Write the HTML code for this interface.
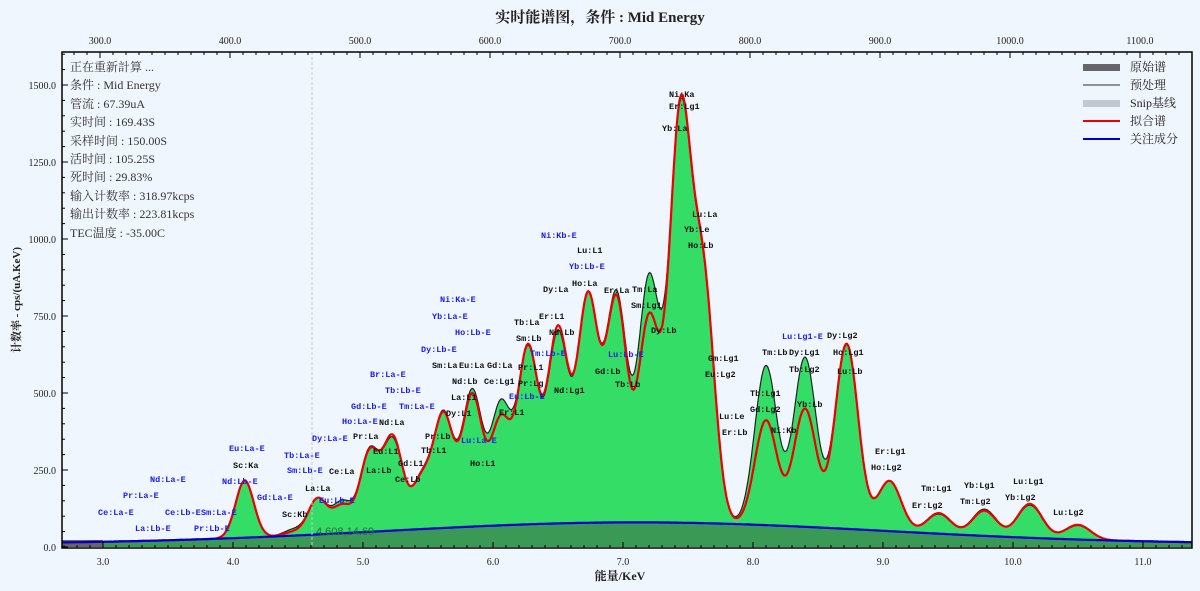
<!DOCTYPE html>
<html><head><meta charset="utf-8">
<style>
html,body{margin:0;padding:0;background:#f0f6fd;}
svg{display:block;}
.t{font-family:"Liberation Serif","Noto Serif CJK SC","Noto Sans CJK SC",serif;}
.m{font-family:"Liberation Mono",monospace;font-size:8.5px;font-weight:bold;}
</style></head>
<body>
<svg id="s" width="1200" height="591" xmlns="http://www.w3.org/2000/svg">
<rect width="1200" height="591" fill="#f0f6fd"/>
<text x="600" y="22" text-anchor="middle" class="t" font-size="15" font-weight="bold" fill="#222">实时能谱图，条件 : Mid Energy</text>
<g id="plot"></g>
<line x1="312" y1="52" x2="312" y2="548" stroke="#c8ccd4" stroke-dasharray="3,2"/>
<text x="316" y="535" font-family="Liberation Sans,sans-serif" font-size="11" fill="#2c6b3a">4.608,14.69</text>
<g id="ticks" stroke="#000"></g>
<rect x="62" y="52" width="1130" height="496" fill="none" stroke="#000" stroke-width="1.5"/>
<g class="t" font-size="12" fill="#333">
<text x="70" y="71">正在重新計算 ...</text>
<text x="70" y="89">条件 : Mid Energy</text>
<text x="70" y="108">管流 : 67.39uA</text>
<text x="70" y="126">实时间 : 169.43S</text>
<text x="70" y="145">采样时间 : 150.00S</text>
<text x="70" y="163">活时间 : 105.25S</text>
<text x="70" y="181">死时间 : 29.83%</text>
<text x="70" y="200">输入计数率 : 318.97kcps</text>
<text x="70" y="218">输出计数率 : 223.81kcps</text>
<text x="70" y="237">TEC温度 : -35.00C</text>
</g>
<g class="t" font-size="12" fill="#222">
<rect x="1083" y="64" width="37" height="7" fill="#666"/>
<text x="1130" y="71">原始谱</text>
<line x1="1083" y1="85" x2="1120" y2="85" stroke="#555" stroke-width="1.2"/>
<text x="1130" y="89">预处理</text>
<rect x="1083" y="100" width="37" height="7" fill="#c4c8d0"/>
<text x="1130" y="107">Snip基线</text>
<line x1="1083" y1="121" x2="1120" y2="121" stroke="#e00" stroke-width="2"/>
<text x="1130" y="125">拟合谱</text>
<line x1="1083" y1="139" x2="1120" y2="139" stroke="#00c" stroke-width="2"/>
<text x="1130" y="143">关注成分</text>
</g>
<text transform="translate(20,300) rotate(-90)" text-anchor="middle" class="t" font-size="11" font-weight="bold" fill="#222">计数率 - cps/(uA.KeV)</text>
<text x="620" y="580" text-anchor="middle" class="t" font-size="12" font-weight="bold" fill="#222">能量/KeV</text>
<g id="labels" class="m"></g>
</svg>
<script>
var NS="http://www.w3.org/2000/svg";
function X(e){return 103+(e-3)*130;}
function Y(c){return 547-c*0.308;}
var T0=[[4.09,218,215],[4.46,60,52],[4.65,160,160],[4.84,153,140],[5.05,325,320],[5.23,357,365],[5.45,250,245],[5.62,445,440],[5.84,515,500],[6.06,480,430],[6.27,655,660],[6.5,705,720],[6.73,830,830],[6.95,835,820],[7.2,890,760],[7.44,1450,1460],[7.62,950,960],[8.1,590,412],[8.4,617,450],[8.72,662,660],[9.05,215,215],[9.43,107,110],[9.78,123,118],[10.13,136,140],[10.5,70,72],[10.95,12,12]];
function sig(e){return 0.07+0.004*(e-4);}
function base(e){return 10+70*Math.exp(-Math.pow((e-7.1)/2.7,2));}
var H=[[],[],[]];
function spec(e,k){var s=base(e);for(var i=0;i<T0.length;i++){var d=(e-T0[i][0])/sig(T0[i][0]);s+=H[k][i]*Math.exp(-0.5*d*d);}return s;}
for(var k=1;k<=2;k++){for(var i=0;i<T0.length;i++)H[k][i]=Math.max(0,T0[i][k]-base(T0[i][0]));
 for(var it=0;it<300;it++){for(var i=0;i<T0.length;i++){var d=T0[i][k]-spec(T0[i][0],k);H[k][i]=Math.max(0,H[k][i]+0.5*d);}}}
var e0=2.685,e1=11.38,n=900,g="",r="",b="";
for(var i=0;i<=n;i++){var e=e0+(e1-e0)*i/n,x=X(e).toFixed(1);
g+=(i?"L":"M")+x+","+Y(spec(e,1)).toFixed(1);
r+=(i?"L":"M")+x+","+Y(spec(e,2)).toFixed(1);
b+=(i?"L":"M")+x+","+Y(base(e)).toFixed(1);}
var P=document.getElementById("plot");
function add(par,tag,at){var el=document.createElementNS(NS,tag);for(var k in at)el.setAttribute(k,at[k]);par.appendChild(el);return el;}
add(P,"path",{d:g+"L1192,547L62,547Z",fill:"#33dd66"});
add(P,"path",{d:b+"L1192,547L62,547Z",fill:"#3a9a55"});
add(P,"rect",{x:62,y:540,width:41,height:7,fill:"#666"});
add(P,"path",{d:g,fill:"none",stroke:"#222","stroke-width":1.2});
add(P,"path",{d:r,fill:"none",stroke:"#e00","stroke-width":2.2});
add(P,"path",{d:b,fill:"none",stroke:"#0000cc","stroke-width":2.2});
var T=document.getElementById("ticks"),S=document.getElementById("s");
function txt(x,y,s,anc){var t=add(S,"text",{x:x,y:y,"text-anchor":anc,"font-family":"Liberation Serif,serif","font-size":"10","fill":"#222"});t.textContent=s;}
for(var v=0;v<=1600;v+=50){var y=Y(v);if(y<52)break;var maj=v%250==0;add(T,"line",{x1:62,y1:y,x2:62+(maj?6:3),y2:y});if(maj)txt(56,y+4,v.toFixed(1),"end");}
for(var k=27;k<=113;k++){var e=k/10,x=X(e);if(x<62||x>1192)continue;var maj=k%10==0;add(T,"line",{x1:x,y1:548,x2:x,y2:548-(maj?6:3)});if(maj)txt(x,565,e.toFixed(1),"middle");}
for(var c=270;c<=1140;c+=10){var x=100+(c-300)*1.3;if(x<62||x>1192)continue;var maj=c%100==0;add(T,"line",{x1:x,y1:52,x2:x,y2:52+(maj?6:3)});if(maj)txt(x,44,c.toFixed(1),"middle");}
var L=[["Ce:La-E",98,512,1],["Pr:La-E",123,495,1],["Nd:La-E",150,479,1],["La:Lb-E",135,528,1],["Ce:Lb-E",165,512,1],["Sm:La-E",201,512,1],["Pr:Lb-E",194,528,1],["Eu:La-E",229,448,1],["Nd:Lb-E",222,481,1],["Sc:Ka",233,465,0],["Gd:La-E",257,497,1],["Sc:Kb",282,514,0],["Tb:La-E",284,455,1],["Sm:Lb-E",287,470,1],["La:La",305,488,0],["Eu:Lb-E",319,500,1],["Dy:La-E",312,438,1],["Ce:La",329,471,0],["Ho:La-E",342,421,1],["Gd:Lb-E",351,406,1],["Br:La-E",370,374,1],["Tb:Lb-E",385,390,1],["Tm:La-E",399,406,1],["Pr:La",353,436,0],["Nd:La",379,422,0],["Eu:L1",373,451,0],["La:Lb",366,470,0],["Gd:L1",398,463,0],["Ce:Lb",395,479,0],["Pr:Lb",425,436,0],["Tb:L1",421,450,0],["Dy:L1",446,413,0],["La:L1",451,397,0],["Sm:La",432,365,0],["Eu:La",459,365,0],["Nd:Lb",452,381,0],["Gd:La",487,365,0],["Ce:Lg1",484,381,0],["Ho:L1",470,463,0],["Lu:La-E",461,440,1],["Dy:Lb-E",421,349,1],["Ho:Lb-E",455,332,1],["Yb:La-E",432,316,1],["Ni:Ka-E",440,299,1],["Er:L1",499,412,0],["Tb:La",514,322,0],["Sm:Lb",516,338,0],["Tm:Lb-E",530,353,1],["Pr:L1",518,367,0],["Pr:Lg",518,383,0],["Eu:Lb-E",509,396,1],["Dy:La",543,289,0],["Er:L1",539,316,0],["Nd:Lb",549,332,0],["Nd:Lg1",554,390,0],["Ni:Kb-E",541,235,1],["Lu:L1",577,250,0],["Yb:Lb-E",569,266,1],["Ho:La",572,283,0],["Er:La",604,290,0],["Tm:La",632,289,0],["Sm:Lg1",631,305,0],["Gd:Lb",595,371,0],["Lu:Lb-E",608,354,1],["Tb:Lb",615,384,0],["Dy:Lb",651,330,0],["Ni:Ka",669,94,0],["Er:Lg1",669,106,0],["Yb:La",662,128,0],["Lu:La",692,214,0],["Yb:Le",684,229,0],["Ho:Lb",688,245,0],["Gm:Lg1",708,358,0],["Eu:Lg2",705,374,0],["Lu:Le",719,416,0],["Er:Lb",722,432,0],["Tm:Lb",762,352,0],["Tb:Lg1",750,393,0],["Gd:Lg2",750,409,0],["Ni:Kb",771,430,0],["Lu:Lg1-E",782,336,1],["Dy:Lg1",789,352,0],["Tb:Lg2",789,369,0],["Yb:Lb",797,404,0],["Dy:Lg2",827,335,0],["Ho:Lg1",833,352,0],["Lu:Lb",837,371,0],["Er:Lg1",875,451,0],["Ho:Lg2",871,467,0],["Er:Lg2",912,505,0],["Tm:Lg1",921,488,0],["Yb:Lg1",964,485,0],["Tm:Lg2",960,501,0],["Lu:Lg1",1013,481,0],["Yb:Lg2",1005,497,0],["Lu:Lg2",1053,512,0]];
var G=document.getElementById("labels");
L.forEach(function(l){var t=add(G,"text",{x:l[1],y:l[2]+3,fill:l[3]?"#1a1aee":"#111"});t.textContent=l[0];});
</script>
</body></html>
